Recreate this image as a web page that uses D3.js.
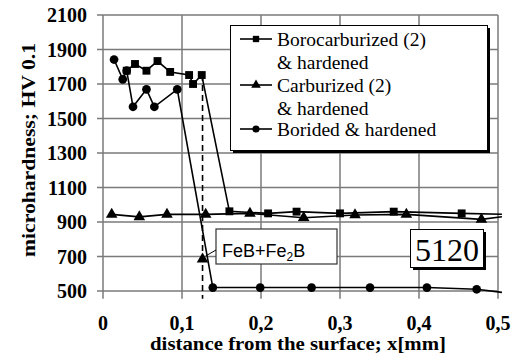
<!DOCTYPE html>
<html><head><meta charset="utf-8">
<script src="https://cdn.jsdelivr.net/npm/d3@7"></script>
<style>body{margin:0;background:#fff}svg{display:block}</style>
</head><body><svg id="c" width="514" height="356"></svg>
<script>
// ---- data ----
const xTicks = [0, 0.1, 0.2, 0.3, 0.4, 0.5];
const xTickLabels = ["0", "0,1", "0,2", "0,3", "0,4", "0,5"];
const yTicks = [500, 700, 900, 1100, 1300, 1500, 1700, 1900, 2100];

const seriesNames = ["Borocarburized (2)|& hardened", "Carburized (2)|& hardened", "Borided & hardened"];

const boroX = [0.030, 0.0405, 0.055, 0.069, 0.085, 0.109, 0.114, 0.125, 0.160, 0.209, 0.245, 0.300, 0.368, 0.454];
const boroY = [1777, 1816, 1777, 1833, 1770, 1752, 1700, 1752, 962, 950, 960, 950, 960, 950];
const boroTail = [0.505, 945];

const carbX = [0.011, 0.046, 0.081, 0.130, 0.186, 0.254, 0.319, 0.384, 0.479];
const carbY = [944, 930, 944, 944, 950, 925, 941, 944, 915];
const carbTail = [0.505, 930];

const boridX = [0.014, 0.025, 0.030, 0.038, 0.055, 0.065, 0.094, 0.139, 0.199, 0.264, 0.338, 0.410, 0.473];
const boridY = [1842, 1727, 1777, 1568, 1669, 1568, 1669, 520, 520, 520, 520, 520, 510];
const boridTail = [0.505, 492];

const layerX = 0.126;          // FeB+Fe2B layer depth (dashed line)
const layerTop = 1752, layerBottom = 455;
const layerMark = 685;
const layerLabel = "FeB+Fe";
const steelLabel = "5120";

// ---- layout ----
const svg = d3.select("#c");
const L = 103, R = 498, T = 15, B = 291;
const x = d3.scaleLinear().domain([0, 0.5]).range([L, R]);
const y = d3.scaleLinear().domain([500, 2100]).range([B, T]);
const serif = "Liberation Serif";
const sans = "Liberation Sans";
const gridCol = "#7a7a7a";

// grid
svg.append("g").selectAll("line").data(yTicks).join("line")
  .attr("x1", L - 6).attr("x2", R).attr("y1", d => y(d)).attr("y2", d => y(d))
  .attr("stroke", gridCol).attr("stroke-width", 1.5);
svg.append("g").selectAll("line").data(xTicks).join("line")
  .attr("x1", d => x(d)).attr("x2", d => x(d)).attr("y1", T).attr("y2", y(455))
  .attr("stroke", gridCol).attr("stroke-width", 1.5);

// axis labels
svg.append("g").selectAll("text").data(yTicks).join("text")
  .attr("x", L - 16).attr("y", d => y(d)).attr("dy", "0.35em")
  .attr("text-anchor", "end").style("font-family", serif).attr("font-weight", "bold")
  .attr("font-size", 20).text(d => d);
svg.append("g").selectAll("text").data(xTicks).join("text")
  .attr("x", d => x(d)).attr("y", 330)
  .attr("text-anchor", "middle").style("font-family", serif).attr("font-weight", "bold")
  .attr("font-size", 20).text((d, i) => xTickLabels[i]);
svg.append("text").attr("x", 298).attr("y", 350).attr("text-anchor", "middle")
  .style("font-family", serif).attr("font-weight", "bold").attr("font-size", 19)
  .attr("textLength", 296).attr("lengthAdjust", "spacingAndGlyphs")
  .text("distance from the surface; x[mm]");
svg.append("text").attr("transform", "translate(35,150) rotate(-90)").attr("text-anchor", "middle")
  .style("font-family", serif).attr("font-weight", "bold").attr("font-size", 19)
  .attr("textLength", 214).attr("lengthAdjust", "spacingAndGlyphs")
  .text("microhardness; HV 0.1");

// dashed layer line
svg.append("line").attr("x1", x(layerX)).attr("x2", x(layerX))
  .attr("y1", y(layerTop)).attr("y2", y(layerBottom))
  .attr("stroke", "#000").attr("stroke-width", 1.6).attr("stroke-dasharray", "6,4");

// series
const line = d3.line().x(d => x(d[0])).y(d => y(d[1]));
function pts(xs, ys) { return xs.map((v, i) => [v, ys[i]]); }
const sq = d3.symbol().type(d3.symbolSquare).size(62);
const tri = d3.symbol().type(d3.symbolTriangle).size(58);
const cir = d3.symbol().type(d3.symbolCircle).size(60);
const series = [
  { p: pts(carbX, carbY), tail: carbTail, sym: tri },
  { p: pts(boroX, boroY), tail: boroTail, sym: sq },
  { p: pts(boridX, boridY), tail: boridTail, sym: cir },
];
series.forEach(s => {
  svg.append("path").attr("d", line(s.p.concat([s.tail])))
    .attr("fill", "none").attr("stroke", "#000").attr("stroke-width", 1.6);
  svg.append("g").selectAll("path").data(s.p).join("path")
    .attr("transform", d => `translate(${x(d[0])},${y(d[1])})`)
    .attr("d", s.sym).attr("fill", "#000");
});

// FeB+Fe2B callout
const bx1 = 216, bx2 = 337, by1 = 229, by2 = 264;
svg.append("rect").attr("x", bx1).attr("y", by1).attr("width", bx2 - bx1).attr("height", by2 - by1)
  .attr("fill", "#fff").attr("stroke", "#333").attr("stroke-width", 1.2);
const ft = svg.append("text").attr("x", 222).attr("y", 257).style("font-family", sans).attr("font-size", 18);
ft.append("tspan").text(layerLabel);
ft.append("tspan").attr("font-size", 12).attr("dy", 4).text("2");
ft.append("tspan").attr("dy", -4).text("B");
svg.append("line").attr("x1", bx1).attr("y1", 250).attr("x2", x(layerX) + 3).attr("y2", y(layerMark) - 3)
  .attr("stroke", "#000").attr("stroke-width", 1);
svg.append("path").attr("transform", `translate(${x(layerX)},${y(layerMark)})`).attr("d", tri).attr("fill", "#000");

// 5120 box
svg.append("rect").attr("x", 413).attr("y", 232).attr("width", 73).attr("height", 38).attr("fill", "#000");
svg.append("rect").attr("x", 410.5).attr("y", 229.5).attr("width", 73).attr("height", 38)
  .attr("fill", "#fff").attr("stroke", "#000").attr("stroke-width", 1);
svg.append("text").attr("x", 447).attr("y", 261).attr("text-anchor", "middle")
  .style("font-family", serif).attr("font-size", 32).text(steelLabel);

// legend
const lx = 230.5, ly = 25.5, lw = 257, lh = 125;
svg.append("rect").attr("x", lx + 2.5).attr("y", ly + 2.5).attr("width", lw).attr("height", lh).attr("fill", "#000");
svg.append("rect").attr("x", lx).attr("y", ly).attr("width", lw).attr("height", lh)
  .attr("fill", "#fff").attr("stroke", "#000").attr("stroke-width", 1);
const legY = [39, 85, 129];
const legSym = [d3.symbol().type(d3.symbolSquare).size(40), d3.symbol().type(d3.symbolTriangle).size(40), d3.symbol().type(d3.symbolCircle).size(40)];
seriesNames.forEach((n, i) => {
  svg.append("line").attr("x1", 240).attr("x2", 272).attr("y1", legY[i]).attr("y2", legY[i])
    .attr("stroke", "#000").attr("stroke-width", 1.6);
  svg.append("path").attr("transform", `translate(256,${legY[i]})`).attr("d", legSym[i]).attr("fill", "#000");
  const parts = n.split("|");
  parts.forEach((t, j) => {
    svg.append("text").attr("x", 277).attr("y", legY[i] + 7 + j * 23)
      .style("font-family", serif).attr("font-size", 19.5).text(t);
  });
});
</script></body></html>
